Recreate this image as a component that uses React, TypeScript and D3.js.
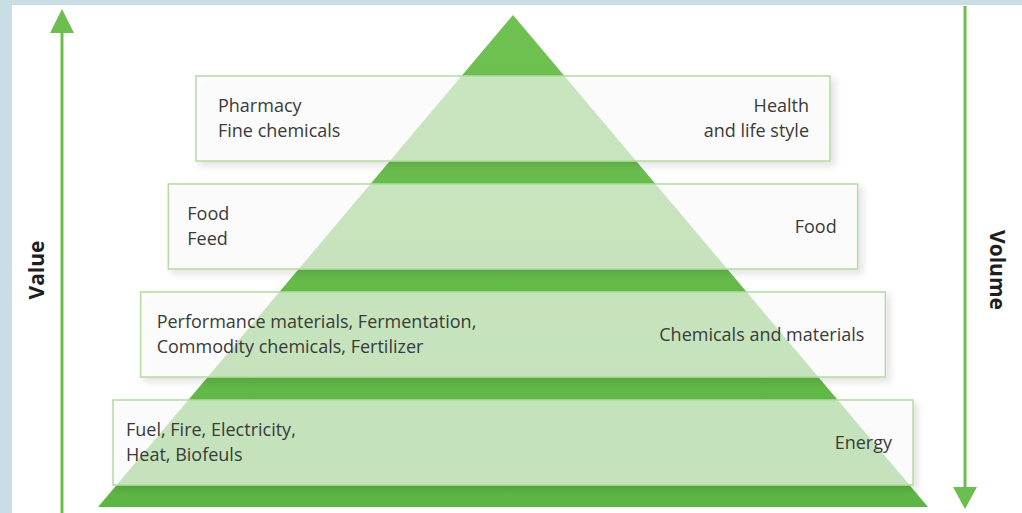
import * as d3 from "d3";

const tiers = ["pharmacy", "food", "chemicals", "energy"];
const leftLabels = [
  ["Pharmacy", "Fine chemicals"],
  ["Food", "Feed"],
  ["Performance materials, Fermentation,", "Commodity chemicals, Fertilizer"],
  ["Fuel, Fire, Electricity,", "Heat, Biofeuls"],
];
const rightLabels = [
  ["Health", "and life style"],
  ["Food"],
  ["Chemicals and materials"],
  ["Energy"],
];
const axisLabels = { left: "Value", right: "Volume" };

const W = 1022;
const H = 513;
const GREEN = "#6cbf4f";
const FONT = "'Open Sans', Lato, sans-serif";

export default function App() {
  const cx = 513;
  // pyramid geometry: apex -> base
  const apexY = 15;
  const baseY = 507;
  const halfBase = 415;
  const halfW = d3.scaleLinear().domain([apexY, baseY]).range([0, halfBase]);

  const rowY = d3.scaleBand<string>().domain(tiers).range([76, 485]).paddingInner(0.213).paddingOuter(0);
  const boxHalf = d3.scaleLinear().domain([0, tiers.length - 1]).range([317, 400]);

  const pyramid = d3.line()([
    [cx, apexY],
    [cx + halfW(baseY), baseY],
    [cx - halfW(baseY), baseY],
  ]) + "Z";

  const bw = rowY.bandwidth();

  return (
    <svg width={W} height={H} style={{ position: "absolute", left: 0, top: 0 }}>
      <defs>
        <filter id="shadow" x="-5%" y="-10%" width="115%" height="130%">
          <feDropShadow dx="4" dy="4" stdDeviation="3.5" floodColor="#000" floodOpacity="0.16" />
        </filter>
        <linearGradient id="pyr" x1="0" y1="0" x2="0" y2="1">
          <stop offset="0" stopColor="#6fc152" />
          <stop offset="1" stopColor="#5db544" />
        </linearGradient>
      </defs>
      <rect width={W} height={H} fill="#c8dde4" />
      <rect x={12} y={5} width={W - 12} height={H - 5} fill="#ffffff" />

      {/* Value arrow */}
      <line x1={62} x2={62} y1={30} y2={H} stroke={GREEN} strokeWidth={3} />
      <path d={`M62,9 L74,33 L50,33 Z`} fill={GREEN} />
      <text
        transform={`translate(44,270) rotate(-90)`}
        textAnchor="middle"
        fontFamily={FONT}
        fontWeight={700}
        fontSize={21}
        fill="#1e1e1e"
      >
        {axisLabels.left}
      </text>

      {/* Volume arrow */}
      <line x1={965} x2={965} y1={6} y2={490} stroke={GREEN} strokeWidth={3} />
      <path d={`M953,487 L977,487 L965,509 Z`} fill={GREEN} />
      <text
        transform={`translate(990,270) rotate(90)`}
        textAnchor="middle"
        fontFamily={FONT}
        fontWeight={700}
        fontSize={21}
        fill="#1e1e1e"
      >
        {axisLabels.right}
      </text>

      <path d={pyramid} fill="url(#pyr)" />

      {tiers.map((t, i) => {
        const y = rowY(t) ?? 0;
        const hw = boxHalf(i);
        const x0 = cx - hw;
        const x1 = cx + hw;
        const left = leftLabels[i];
        const right = rightLabels[i];
        const lineH = 25;
        const leftTop = y + bw / 2 - ((left.length - 1) * lineH) / 2;
        const rightTop = y + bw / 2 - ((right.length - 1) * lineH) / 2;
        return (
          <g key={t}>
            <rect
              x={x0}
              y={y}
              width={hw * 2}
              height={bw}
              fill="#ffffff"
              fillOpacity={0.62}
              stroke="#b4dca0"
              strokeWidth={1.5}
              filter="url(#shadow)"
            />
            {left.map((s, k) => (
              <text
                key={k}
                x={x0 + 22 - i * 3}
                y={leftTop + k * lineH}
                dy="0.35em"
                fontFamily={FONT}
                fontSize={18}
                fill="#3a3a3a"
              >
                {s}
              </text>
            ))}
            {right.map((s, k) => (
              <text
                key={k}
                x={x1 - 21}
                y={rightTop + k * lineH}
                dy="0.35em"
                textAnchor="end"
                fontFamily={FONT}
                fontSize={18}
                fill="#3a3a3a"
              >
                {s}
              </text>
            ))}
          </g>
        );
      })}
    </svg>
  );
}
